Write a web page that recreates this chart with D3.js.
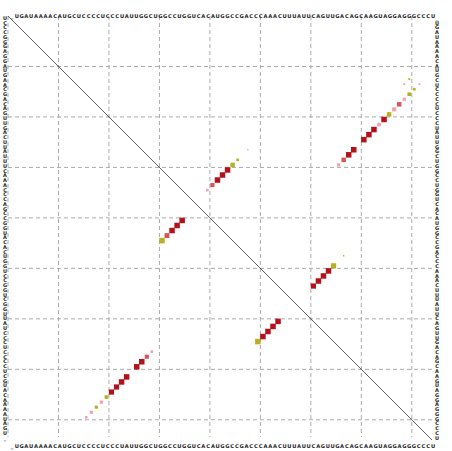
<!DOCTYPE html>
<html>
<head>
<meta charset="utf-8">
<script src="https://cdn.jsdelivr.net/npm/d3@7"></script>
<style>
  body { margin: 0; background: #fff; }
  svg text { font-family: "DejaVu Sans", sans-serif; font-weight: bold; fill: #222; }
</style>
</head>
<body>
<svg id="chart" width="452" height="451"></svg>
<script>
// sequence shown along the edges
const sequence = "UGAUAAAACAUGCUCCCCUCCCUAUUGGCUGGCCUGGUCACAUGGCCGACCCAAACUUUAUUCAGUUGACAGCAAGUAGGAGGGCCCU";
const nPos = 84;

// dots: [i, j, prob, colour group]
const upperDots = [
    [66, 30, 0.3, 'pink'], [67, 29, 0.6, 'mid'], [68, 28, 0.9, 'dark'], [69, 27, 0.9, 'dark'],
    [71, 25, 0.9, 'dark'], [72, 24, 0.9, 'dark'], [73, 23, 0.9, 'dark'], [74, 22, 0.4, 'pink'],
    [75, 21, 0.9, 'dark'], [76, 20, 0.6, 'yellow'], [77, 19, 0.5, 'pink'], [78, 18, 0.6, 'mid'],
    [79, 17, 0.3, 'pink'], [80, 16, 0.4, 'yellow'], [81, 15, 0.2, 'yellow'], [82, 14, 0.1, 'pink'],
    [79, 14, 0.1, 'pink'], [80, 13, 0.1, 'yellow'],
    [40, 35, 0.2, 'pink'], [41, 34, 0.5, 'mid'], [42, 33, 0.9, 'dark'], [43, 32, 0.9, 'dark'],
    [44, 31, 0.9, 'dark'], [45, 30, 0.6, 'yellow'], [46, 29, 0.2, 'yellow'], [48, 27, 0.05, 'pink'],
    [61, 54, 0.8, 'dark'], [62, 53, 0.9, 'dark'], [63, 52, 0.9, 'dark'], [64, 51, 0.9, 'dark'],
    [65, 50, 0.8, 'yellow'], [67, 48, 0.05, 'yellow']
];
const lowerDots = [
    [16, 80, 0.2, 'pink'], [17, 79, 0.3, 'pink'], [18, 78, 0.3, 'yellow'], [19, 77, 0.3, 'pink'],
    [20, 76, 0.4, 'yellow'], [21, 75, 0.8, 'dark'], [22, 74, 0.8, 'dark'], [23, 73, 0.9, 'dark'],
    [24, 72, 0.9, 'dark'], [26, 70, 0.9, 'dark'], [27, 69, 0.9, 'dark'], [28, 68, 0.5, 'mid'],
    [29, 67, 0.2, 'pink'],
    [31, 45, 0.9, 'yellow'], [32, 44, 0.7, 'mid'], [33, 43, 0.9, 'dark'], [34, 42, 0.9, 'dark'],
    [35, 41, 0.9, 'dark'],
    [50, 65, 0.9, 'yellow'], [51, 64, 0.9, 'dark'], [52, 63, 0.9, 'dark'], [53, 62, 0.9, 'dark'],
    [54, 61, 0.9, 'dark']
];

const colours = { dark: '#b3121c', mid: '#d9545a', pink: '#f2a2aa', yellow: '#b8b020' };

const svg = d3.select('#chart');
const plotLeft = 8, plotTop = 16, size = 424;

const x = d3.scaleLinear().domain([0, nPos]).range([plotLeft, plotLeft + size]);
const y = d3.scaleLinear().domain([0, nPos]).range([plotTop, plotTop + size]);
const cell = x(1) - x(0);
const side = d3.scaleSqrt().domain([0, 1]).range([0, cell * 1.15]);

// grid
const ticks = d3.range(0, nPos, 10);
svg.append('g').selectAll('line').data(ticks).join('line')
    .attr('x1', d => x(d)).attr('x2', d => x(d))
    .attr('y1', plotTop).attr('y2', plotTop + size - 3)
    .attr('stroke', '#aaa').attr('stroke-dasharray', '4,3');
svg.append('g').selectAll('line').data(ticks.slice(1)).join('line')
    .attr('y1', d => y(d)).attr('y2', d => y(d))
    .attr('x1', plotLeft).attr('x2', plotLeft + size + 3)
    .attr('stroke', '#aaa').attr('stroke-dasharray', '4,3');

// diagonal
svg.append('line')
    .attr('x1', x(0)).attr('y1', y(0)).attr('x2', x(nPos)).attr('y2', y(nPos))
    .attr('stroke', '#333').attr('stroke-width', 0.8);

// dots
const drawDots = data => svg.append('g').selectAll('rect').data(data).join('rect')
    .attr('x', d => x(d[0] - 0.5) - side(d[2]) / 2)
    .attr('y', d => y(d[1] - 0.5) - side(d[2]) / 2)
    .attr('width', d => side(d[2]))
    .attr('height', d => side(d[2]))
    .attr('fill', d => colours[d[3]]);
drawDots(upperDots);
drawDots(lowerDots);

// sequence labels
const letters = ('_' + sequence).split('');
const s = d3.scalePoint().domain(d3.range(letters.length)).range([12, 433]);
const sv = d3.scalePoint().domain(d3.range(letters.length)).range([18, 438]);

const addRow = (yy) => svg.append('g').selectAll('text').data(letters).join('text')
    .attr('x', (d, k) => s(k)).attr('y', yy)
    .attr('text-anchor', 'middle').attr('font-size', 5.2).text(d => d);
addRow(17.5);
addRow(448);

svg.append('g').selectAll('text').data(letters).join('text')
    .attr('x', 5).attr('y', (d, k) => 438 - (sv(k) - 18) + 1.8)
    .attr('text-anchor', 'middle').attr('font-size', 5).text(d => d);
svg.append('g').selectAll('text').data(letters).join('text')
    .attr('x', 437).attr('y', (d, k) => sv(k) + 1.8)
    .attr('text-anchor', 'middle').attr('font-size', 5).text(d => d);
</script>
</body>
</html>
